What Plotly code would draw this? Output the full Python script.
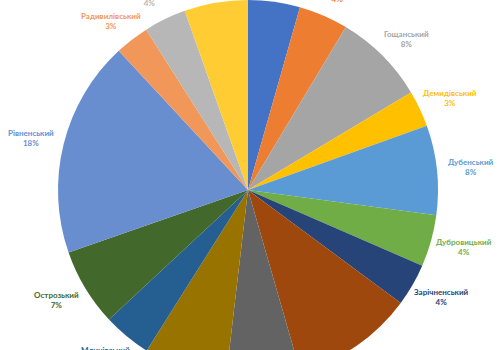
import math
import plotly.graph_objects as go

districts = ["Березнівський", "Володимирецький", "Гощанський", "Демидівський",
             "Дубенський", "Дубровицький", "Зарічненський", "Здолбунівський",
             "Корецький", "Костопільський", "Млинівський", "Острозький",
             "Рівненський", "Радивилівський", "Рокитнівський", "Сарненський"]
shares = [4.4, 4.2, 7.8, 3.1, 7.6, 4.4, 3.6, 10.4, 6.3, 7.1, 4.1, 6.6, 18.4, 2.9, 3.6, 5.4]
colors = ["#4472C4", "#ED7D31", "#A5A5A5", "#FFC000", "#5B9BD5", "#70AD47",
          "#264478", "#9E480E", "#636363", "#997300", "#255E91", "#43682B",
          "#698ED0", "#F1975A", "#B7B7B7", "#FFCD33"]

W, H = 499, 380
L, R = 58, 61
label_rx = 224 / 380  # horizontal label distance from centre (domain units)
label_ry = 214 / 380  # vertical label distance from centre (domain units)

fig = go.Figure(go.Pie(
    labels=districts,
    values=shares,
    sort=False,
    direction="clockwise",
    rotation=0,
    marker=dict(colors=colors, line=dict(width=0)),
    textinfo="none",
    hoverinfo="label+percent",
    showlegend=False,
    domain=dict(x=[0, 1], y=[0, 1]),
))

# data labels placed at the mid-angle of each slice, outside the pie (best-fit style)
total = sum(shares)
cum = 0.0
annotations = []
for name, v, c in zip(districts, shares, colors):
    mid = (cum + v / 2) / total * 2 * math.pi
    cum += v
    ax = 0.5 + label_rx * math.sin(mid)
    ay = 0.5 + label_ry * math.cos(mid)
    pct = round(v / total * 100)
    annotations.append(dict(
        x=ax, y=ay, xref="paper", yref="paper",
        text=f"<b>{name}</b><br><b>{pct}%</b>",
        showarrow=False, xanchor="center", yanchor="middle",
        font=dict(family="Lato, Carlito, Liberation Sans", size=8, color=c),
    ))

fig.update_layout(
    width=W,
    height=H,
    margin=dict(l=L, r=R, t=0, b=0),
    paper_bgcolor="white",
    plot_bgcolor="white",
    annotations=annotations,
)

fig.write_html(
    "out.html",
    post_script="document.body.style.margin='0';document.body.style.overflow='hidden';document.documentElement.style.overflow='hidden';",
)
